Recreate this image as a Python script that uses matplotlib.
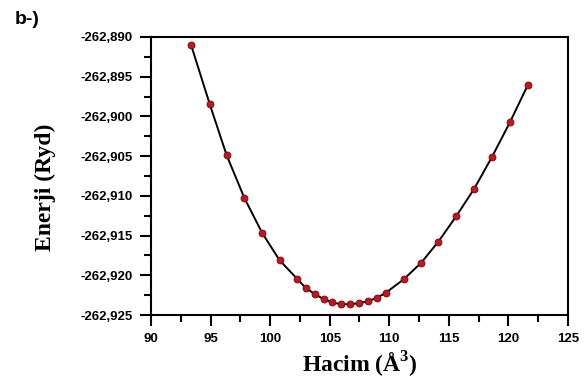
import matplotlib
matplotlib.use("Agg")
import matplotlib.pyplot as plt
from matplotlib.ticker import MultipleLocator, FuncFormatter

# hacim (A^3) ve enerji (Ryd) degerleri
hacim = [93.36, 94.93, 96.35, 97.84, 99.32, 100.80, 102.26,
         103.01, 103.77, 104.50, 105.22, 105.98, 106.71, 107.46,
         108.22, 108.98, 109.71,
         111.20, 112.67, 114.12, 115.61, 117.12, 118.61, 120.12, 121.63]
enerji = [-262.89097, -262.89845, -262.90488, -262.91027, -262.91463,
          -262.91812, -262.92043,
          -262.92162, -262.92238, -262.92301, -262.92342, -262.92364,
          -262.92364, -262.92351, -262.92326, -262.92283, -262.92220,
          -262.92052, -262.91844, -262.91577, -262.91258, -262.90913,
          -262.90513, -262.90076, -262.89605]

plt.rcParams["mathtext.fontset"] = "custom"
plt.rcParams["mathtext.rm"] = "Liberation Serif"
plt.rcParams["mathtext.bf"] = "Liberation Serif:bold"

fig = plt.figure(figsize=(5.87, 3.87), dpi=100)
ax = fig.add_axes([0.2572, 0.186, 0.7104, 0.7184])

ax.plot(hacim, enerji, color="black", linewidth=1.4, zorder=2)
ax.plot(hacim, enerji, "o", color="#c0171e", markeredgecolor="#6e0a0a",
        markeredgewidth=0.6, markersize=5, zorder=3)

ax.set_xlim(90, 125)
ax.set_ylim(-262.925, -262.890)

ax.xaxis.set_major_locator(MultipleLocator(5))
ax.xaxis.set_minor_locator(MultipleLocator(2.5))
ax.yaxis.set_major_locator(MultipleLocator(0.005))
ax.yaxis.set_minor_locator(MultipleLocator(0.0025))
ax.xaxis.set_major_formatter(FuncFormatter(lambda v, p: f"{v:.0f}"))
ax.yaxis.set_major_formatter(FuncFormatter(lambda v, p: f"{v:.3f}".replace(".", ",")))

for spine in ax.spines.values():
    spine.set_linewidth(1.5)

ax.tick_params(which="major", direction="out", length=8, width=1.5,
               pad=5, top=False, right=False)
ax.tick_params(which="minor", direction="out", length=5, width=1.5,
               top=False, right=False)
for lbl in ax.get_xticklabels() + ax.get_yticklabels():
    lbl.set_family("Liberation Sans")
    lbl.set_fontweight("bold")
    lbl.set_fontsize(9.5)

fig.text(359.5 / 587, 1 - 373 / 387, r"Hacim (Å$^{\mathbf{3}}$)", ha="center",
         va="baseline", family="Liberation Serif", fontweight="bold", fontsize=17)
fig.text(51 / 587, 1 - 187 / 387, "Enerji (Ryd)", ha="center", va="baseline",
         rotation=90, rotation_mode="anchor", family="Liberation Serif",
         fontweight="bold", fontsize=17)
fig.text(15 / 587, 1 - 24 / 387, "b-)", ha="left", va="baseline",
         family="Liberation Sans", fontweight="bold", fontsize=14)

fig.savefig("out.png", dpi=100)
